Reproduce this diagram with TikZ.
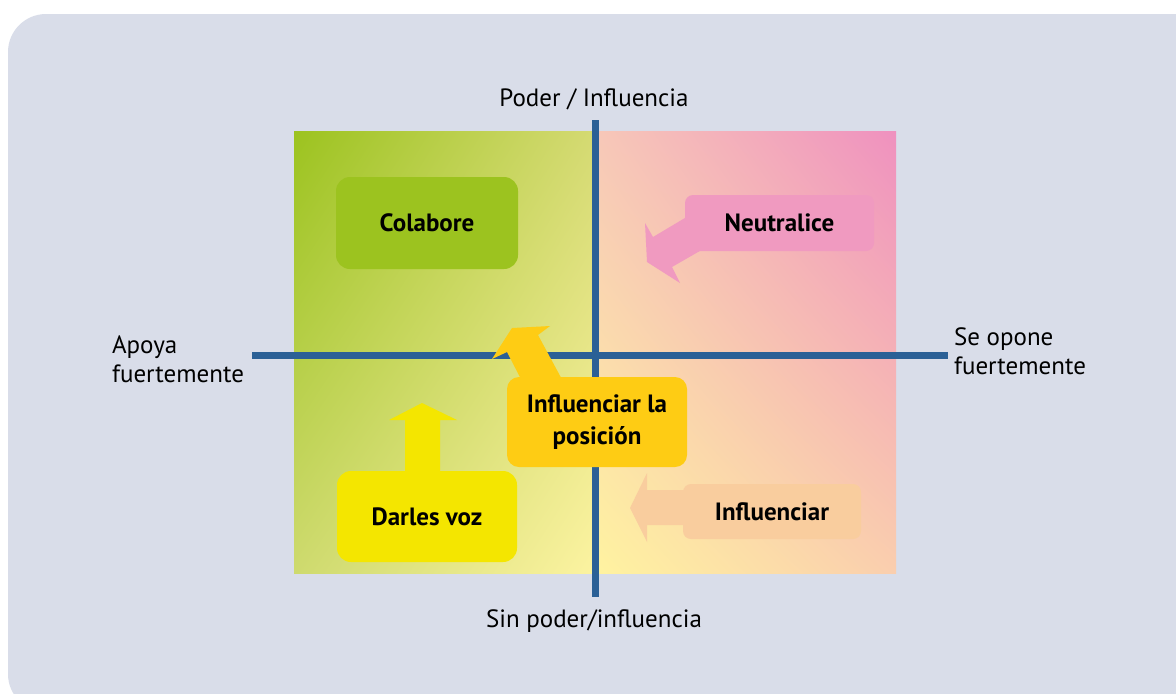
\documentclass[tikz,border=0pt]{standalone}
\usepackage{fontspec}
\setmainfont{PT Sans}
\usepackage{tikz}
\usetikzlibrary{positioning,shadings}

\definecolor{backdrop}{HTML}{D9DDE9}
\definecolor{axisblue}{HTML}{2B6096}
\definecolor{greenbox}{HTML}{9CC31F}
\definecolor{pinkbox}{HTML}{F09AC0}
\definecolor{peachbox}{HTML}{F9CD9E}
\definecolor{yellowbox}{HTML}{F4E600}
\definecolor{goldbox}{HTML}{FECC14}

\begin{document}
\begin{tikzpicture}[x=0.5pt, y=-0.5pt,
    axislabel/.style = {font=\fontsize{12.5}{14.5}\selectfont},
    box/.style = {rounded corners=7pt, inner sep=0pt, align=center,
                  font=\bfseries\fontsize{12.5}{16}\selectfont},
    axis/.style = {draw=axisblue, line width=3.5pt}]
  \tikzset{every node/.style={text=black}}
  \useasboundingbox (0,0) rectangle (1176,693);
  \fill[backdrop, rounded corners=19pt] (8,14) rectangle (1230,712);

  % quadrants
  \shade[upper left=greenbox, upper right={rgb,255:red,213;green,218;blue,115},
         lower left={rgb,255:red,206;green,218;blue,110}, lower right={rgb,255:red,252;green,243;blue,161}]
    (294,131) rectangle (595,573);
  \shade[upper left={rgb,255:red,247;green,200;blue,184}, upper right={rgb,255:red,239;green,145;blue,191},
         lower left={rgb,255:red,255;green,243;blue,160}, lower right={rgb,255:red,250;green,206;blue,174}]
    (595,131) rectangle (896,573);

  % block arrows and boxes
  \fill[pinkbox] (700,209) -- (653,237) -- (645,223) -- (647,262) -- (680,283) -- (672,267) -- (705,248) -- cycle;
  \node[box, fill=pinkbox, rounded corners=4pt, minimum width=94.5pt, minimum height=28pt]
    (neutralice) at (779.5,223) {Neutralice};

  \fill[peachbox] (690,490) -- (647,490) -- (647,473) -- (630,508) -- (647,542) -- (647,525) -- (690,525) -- cycle;
  \node[box, fill=peachbox, rounded corners=4pt, minimum width=89pt, minimum height=27.5pt]
    (influenciar) at (772,511.5) {Influenciar};

  \node[box, fill=greenbox, minimum width=91pt, minimum height=46pt]
    (colabore) at (427,223) {Colabore};

  \fill[yellowbox] (405,480) -- (405,420) -- (389,420) -- (422,403) -- (457,420) -- (440,420) -- (440,480) -- cycle;
  \node[box, fill=yellowbox, minimum width=90pt, minimum height=45.5pt]
    (darles) at (427,516.5) {Darles voz};

  % axes
  \coordinate (north) at (595,120);
  \coordinate (south) at (595,597);
  \coordinate (west)  at (252,355);
  \coordinate (east)  at (948,355);
  \draw[axis] (north) -- (south);
  \draw[axis] (west) -- (east);

  \node[axislabel, anchor=base] (poder) at (594,106) {Poder / Influencia};
  \node[axislabel, anchor=base] (sinpoder) at (594,627) {Sin poder/influencia};
  \node[axislabel, anchor=west, align=left] (apoya) at (105,359) {Apoya\\fuertemente};
  \node[axislabel, anchor=west, align=left] (opone) at (947,351) {Se opone\\fuertemente};

  \fill[goldbox] (524,385) -- (507,352) -- (492,359) -- (512,328) -- (550,326) -- (538,335) -- (565,385) -- cycle;
  \node[box, fill=goldbox, rounded corners=6pt, minimum width=90pt, minimum height=45pt]
    (posicion) at (597,422) {Influenciar la\\posición};
\end{tikzpicture}
\end{document}
